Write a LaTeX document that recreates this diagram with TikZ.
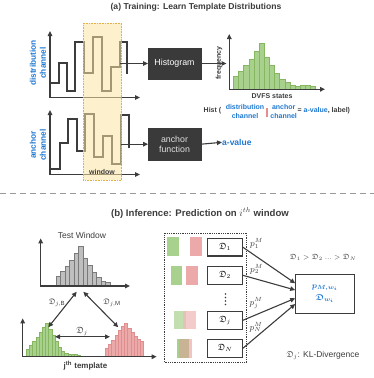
\documentclass[tikz,border=0pt]{standalone}
\usepackage{fontspec}
\setmainfont{Liberation Sans}
\usepackage{amsmath,amssymb}
\usetikzlibrary{arrows.meta,calc}
\definecolor{tc}{HTML}{3C3C3C}
\definecolor{bl}{HTML}{1F78D1}
\definecolor{boxc}{HTML}{3A3A3A}
\definecolor{gfill}{HTML}{A9D18E}
\definecolor{gline}{HTML}{86B65F}
\definecolor{rfill}{HTML}{EBA9A9}
\definecolor{rline}{HTML}{E08D8D}
\definecolor{gyfill}{HTML}{BFBFBF}
\definecolor{gyline}{HTML}{7A7A7A}
\definecolor{winf}{HTML}{FBE3A4}
\definecolor{winl}{HTML}{E3B04B}
\definecolor{pinkbar}{HTML}{E88C8C}
\definecolor{sepc}{HTML}{9A9A9A}
\definecolor{mixc}{HTML}{C8B494}
\tikzset{
  tip/.tip={Triangle[length=5pt,width=4.5pt]},
  axis/.style={line width=1.3pt, draw=tc, tip-tip, line join=miter},
  wave/.style={line width=1.3pt, draw=tc, line join=miter},
  arr/.style={line width=1.1pt, draw=tc, -tip},
  darr/.style={line width=1.1pt, draw=tc, tip-tip},
  darkbox/.style={fill=boxc, draw=boxc, minimum width=52.4pt, minimum height=31.6pt,
    inner sep=1pt, align=center, font=\fontsize{8.8}{10.5}\selectfont},
  dbox/.style={draw=tc, line width=1.1pt, fill=white, minimum width=34.6pt,
    minimum height=17.5pt, inner sep=0pt, font=\fontsize{9}{10}\selectfont},
  ttl/.style={text=tc, font=\fontsize{8.6}{10}\selectfont\bfseries},
  chl/.style={text=bl, align=center, rotate=90, font=\fontsize{8.3}{10}\selectfont\bfseries},
  sm/.style={text=tc, font=\fontsize{7}{8.4}\selectfont\bfseries, inner sep=0.5pt},
  smb/.style={text=bl, align=center, font=\fontsize{7}{8.4}\selectfont\bfseries, inner sep=0.5pt},
  gbar/.style={fill=gfill, draw=gline, line width=0.5pt},
  rbar/.style={fill=rfill, draw=rline, line width=0.5pt},
  gybar/.style={fill=gyfill, draw=gyline, line width=0.5pt},
  lbl/.style={text=tc, inner sep=0.5pt},
}
\begin{document}
\begin{tikzpicture}[x=1pt,y=-1pt]
\useasboundingbox (0,0) rectangle (374,378);

% ---------- (a) ----------
\node[ttl] (ta) at (196,7) {(a) Training: Learn Template Distributions};

% distribution channel
\draw[axis] (50,31) -- (50,97.5) -- (140,97.5);
\draw[wave] (50,83) -- (59,83) -- (59,63) -- (67,63) -- (67,91) -- (75,91) -- (75,42) -- (84,42)
  -- (84,73) -- (93,73) -- (93,37) -- (102,37) -- (102,91) -- (111,91) -- (111,67) -- (120,67)
  -- (120,42) -- (127,42) -- (127,74);
\node[chl] (dcl) at (38,63) {distribution\\channel};

% anchor channel
\draw[axis] (50,110) -- (50,174.5) -- (140,174.5);
\draw[wave] (50,169) -- (60,169) -- (60,143) -- (68,143) -- (68,119) -- (77,119) -- (77,151) -- (85,151)
  -- (85,114) -- (94,114) -- (94,157) -- (103,157) -- (103,136) -- (112,136) -- (112,164) -- (121,164)
  -- (121,115) -- (129,115) -- (129,148);
\node[chl] (acl) at (38,145) {anchor\\channel};

% window
\fill[winf, fill opacity=0.55] (83.3,23.3) rectangle (121.7,180);
\draw[winl, densely dotted, line width=0.6pt] (83.3,23.3) rectangle (121.7,180);
\node[text=tc, font=\fontsize{7}{8}\selectfont\bfseries] (win) at (102,172) {window};

% boxes
\node[darkbox, text=white] (hist) at (174.5,63.5) {Histogram};
\node[darkbox, text=black!12] (anch) at (174.5,144.2) {anchor\\function};
\coordinate (w1) at (120,63.5);
\coordinate (w2) at (121,144.2);
\draw[arr] (w1) -- (hist.west);
\draw[arr] (w2) -- (anch.west);
\node[text=bl, font=\fontsize{8.5}{10}\selectfont\bfseries, anchor=west, inner sep=0pt] (av) at (222,142.3) {a-value};
\draw[arr] (anch.east) -- (av.west);

% frequency histogram
\foreach \h [count=\i from 0] in {13,18,24.3,30.3,37.7,46,32,24.3,16,10,6.7,4,3.3,3.7,4.3,2.7}
  \draw[gbar] ({233.3+\i*5.15},89.3) rectangle ++(5.15,-\h);
\draw[axis] (229.3,34) -- (229.3,89.3) -- (325,89.3);
\coordinate (fh) at (226.5,63.5);
\draw[arr] (hist.east) -- (fh);
\node[sm, rotate=90] (freq) at (219,63) {frequency};
\node[sm] (dvfs) at (272,96) {DVFS states};

% Hist formula
\node[sm, anchor=west] (hst) at (203,110.5) {Hist (};
\node[smb] (hd) at (245,111.5) {distribution\\channel};
\node[fill=pinkbar, minimum width=1.8pt, minimum height=9pt, inner sep=0pt] (hbar) at (267.3,112.7) {};
\node[smb] (ha) at (283.7,111.5) {anchor\\channel};
\node[sm, anchor=west] (hr) at (297,110.5) {= \textcolor{bl}{a-value}, label)};

% separator
\draw[sepc, line width=0.8pt, dash pattern=on 6pt off 4pt] (0,193.3) -- (374,193.3);

% ---------- (b) ----------
\node[ttl, font=\fontsize{9.6}{11}\selectfont\bfseries] (tb) at (200,213) {(b) Inference: Prediction on $i^{th}$ window};

% test window
\foreach \h [count=\i from 0] in {10,15,20,26,33,40,28,21,14,9,5,4}
  \draw[gybar] ({56+\i*4.5},286) rectangle ++(4.5,-\h);
\draw[axis] (40.7,238.3) -- (40.7,286) -- (130,286);
\node[text=tc, font=\fontsize{8.5}{10}\selectfont] (tw) at (82,235.5) {Test Window};

% template
\foreach \h [count=\i from 0] in {7,11,15,19,24,29,33,27,21,15,9,5,3,2.5,2,2,1.5}
  \draw[gbar] ({26.3+\i*3.2},356.7) rectangle ++(3.2,-\h);
\foreach \h [count=\i from 0] in {8,12,16,21,26,30,33,28,24,20,17,15}
  \draw[rbar] ({105.3+\i*3.2},356.7) rectangle ++(3.2,-\h);
\draw[axis] (22.7,318.3) -- (22.7,356.7) -- (156.7,356.7);
\node[text=tc, font=\fontsize{8}{9}\selectfont\bfseries] (jt) at (85.5,365.5) {j\textsuperscript{th} template};

\coordinate (twl) at (76.7,291.7);
\coordinate (twr) at (83.3,291.7);
\coordinate (gpk) at (48.3,327.3);
\coordinate (rpk) at (118.3,327.3);
\coordinate (dl) at (55,336.7);
\coordinate (dr) at (110,336.7);
\draw[darr] (twl) -- (gpk);
\draw[darr] (twr) -- (rpk);
\draw[darr] (dl) -- (dr);
\node[lbl, font=\fontsize{8}{9}\selectfont] (ljb) at (57,303) {$\mathfrak{D}_{j,\mathrm{B}}$};
\node[lbl, font=\fontsize{8}{9}\selectfont] (ljm) at (112,303) {$\mathfrak{D}_{j,\mathrm{M}}$};
\node[lbl, font=\fontsize{9}{10}\selectfont] (lj) at (82,331) {$\mathfrak{D}_j$};

% right part
\draw[tc, densely dotted, line width=0.8pt] (164,233.3) rectangle (246.7,362.3);
% colour squares
\fill[gfill] (167.3,237.3) rectangle (179.3,256);
\fill[rfill] (190,237.3) rectangle (202.3,256);
\fill[gfill] (170.7,265.7) rectangle (182.3,284.5);
\fill[rfill] (186,265.7) rectangle (198.3,284.5);
\fill[gfill!70!white] (174,311) rectangle (186,329.3);
\fill[rfill!80!white, fill opacity=0.75] (183.3,311) rectangle (195.7,329.3);
\fill[gfill] (177.3,339) rectangle (189,357.7);
\fill[rfill!70!white] (179,339) rectangle (192.3,357.7);
\fill[mixc] (179,339) rectangle (189,357.7);

\node[dbox] (d1) at (225,247.2) {$\mathfrak{D}_1$};
\node[dbox] (d2) at (225,275.3) {$\mathfrak{D}_2$};
\node[dbox] (dj) at (225,320.3) {$\mathfrak{D}_j$};
\node[dbox] (dn) at (225,348.3) {$\mathfrak{D}_N$};
\foreach \yy in {294,297.5,301,304.5} \fill[tc] (225.5,\yy) circle (0.9);

\node[draw=tc, line width=1.1pt, minimum width=58.3pt, minimum height=39.3pt, align=center,
  text=bl, font=\fontsize{8.5}{12}\selectfont] (res) at (324.9,293.7)
  {$\boldsymbol{p_{M,w_i}}$\\$\boldsymbol{\mathfrak{D}_{w_i}}$};

\draw[arr] (d1.east) -- ($(res.west)+(0,-10.4)$);
\draw[arr] (d2.east) -- ($(res.west)+(0,-3.7)$);
\draw[arr] (dj.east) -- ($(res.west)+(0,4.6)$);
\draw[arr] (dn.east) -- ($(res.west)+(0,10.3)$);

\node[lbl, font=\fontsize{9}{10}\selectfont] (p1) at (256.5,243.5) {$p_1^M$};
\node[lbl, font=\fontsize{9}{10}\selectfont] (p2) at (256.5,269) {$p_2^M$};
\node[lbl, font=\fontsize{9}{10}\selectfont] (pj) at (256,303) {$p_j^M$};
\node[lbl, font=\fontsize{9}{10}\selectfont] (pn) at (256,327) {$p_N^M$};

\node[lbl, font=\fontsize{7.5}{9}\selectfont] (ord) at (323,257.3) {$\mathfrak{D}_1 > \mathfrak{D}_2\ ...>\mathfrak{D}_N$};
\node[lbl, font=\fontsize{8.5}{10}\selectfont] (kl) at (323,355.7) {$\mathfrak{D}_j$: KL-Divergence};
\end{tikzpicture}
\end{document}
